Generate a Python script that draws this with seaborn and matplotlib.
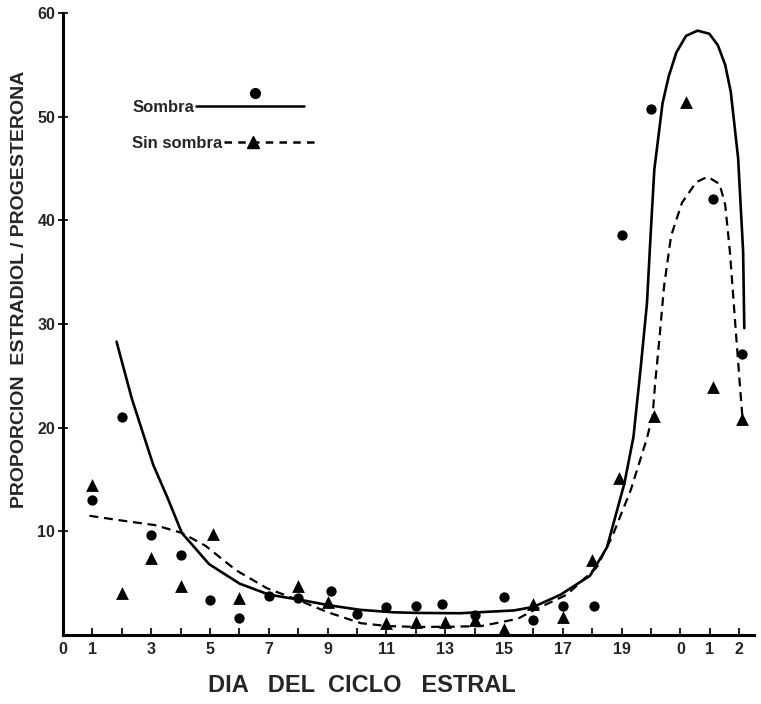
import numpy as np
import pandas as pd
import matplotlib
matplotlib.use("Agg")
import matplotlib.pyplot as plt
import seaborn as sns
from matplotlib.lines import Line2D
from matplotlib.legend_handler import HandlerBase

# ---- data ----
sombra_dia = [1, 2, 3, 4, 5, 6, 7, 8, 9.1, 10, 11, 12, 12.9, 14, 15, 16, 17, 18.05, 19.0, 20.0, 22.1, 23.1]
sombra_val = [13.0, 21.0, 9.6, 7.7, 3.4, 1.6, 3.8, 3.6, 4.2, 2.0, 2.7, 2.8, 3.0, 1.9, 3.7, 1.4, 2.8, 2.8, 38.6, 50.7, 42.1, 27.1]

sin_dia = [1, 2, 3, 4, 5.1, 6, 8, 9, 11, 12, 13, 14, 15, 16, 17, 18, 18.9, 20.1, 21.2, 22.1, 23.1]
sin_val = [14.5, 4.1, 7.4, 4.7, 9.7, 3.6, 4.7, 3.2, 1.2, 1.3, 1.3, 1.4, 0.6, 3.0, 1.7, 7.2, 15.1, 21.1, 51.4, 23.9, 20.8]

curva_sombra_dia = [1.82, 2.34, 3.07, 3.56, 4.04, 4.97, 6.01, 7.01, 8.07, 9.07, 10.1, 11.24, 12.03, 13.5,
                    15.34, 16.01, 16.92, 17.92, 18.5, 19.09, 19.40, 19.64, 19.86, 19.98, 20.11, 20.39,
                    20.6, 20.86, 21.19, 21.58, 21.98, 22.27, 22.52, 22.71, 22.96, 23.13, 23.17]
curva_sombra_val = [28.3, 22.8, 16.4, 13.2, 9.85, 6.83, 4.95, 3.89, 3.39, 2.86, 2.43, 2.19, 2.13, 2.1,
                    2.37, 2.72, 3.89, 5.71, 8.46, 14.6, 19.1, 25.6, 32.0, 38.4, 44.9, 51.3,
                    53.9, 56.2, 57.8, 58.3, 58.0, 56.9, 55.0, 52.4, 46.0, 37.0, 29.6]

curva_sin_dia = [0.9, 2.1, 3.13, 4.04, 4.85, 5.89, 6.93, 8.07, 8.99, 10.13, 11.04, 12.04, 13.2, 14.22,
                 15.46, 16.02, 17.14, 18.14, 18.67, 19.31, 19.84, 20.05, 20.13, 20.29, 20.44, 20.68,
                 21.05, 21.54, 21.93, 22.33, 22.52, 22.68, 22.85, 23.02, 23.11]
curva_sin_val = [11.5, 11.0, 10.6, 9.85, 8.6, 6.24, 4.52, 3.29, 2.21, 1.14, 0.86, 0.78, 0.8, 0.86,
                 1.56, 2.4, 3.9, 6.5, 9.44, 14.0, 18.8, 21.1, 24.0, 28.8, 33.6, 38.5,
                 41.7, 43.7, 44.2, 43.5, 41.5, 37.0, 30.5, 24.1, 20.9]

xtick_pos = [0, 1, 3, 5, 7, 9, 11, 13, 15, 17, 19, 21, 22, 23]
xtick_lab = ["0", "1", "3", "5", "7", "9", "11", "13", "15", "17", "19", "0", "1", "2"]
ytick_pos = [10, 20, 30, 40, 50, 60]

# ---- figure ----
sns.set_style("ticks")
plt.rcParams["font.family"] = ["Liberation Sans", "DejaVu Sans"]

fig = plt.figure(figsize=(7.61, 7.04), dpi=100)
ax = fig.add_axes([0.0828, 0.098, 0.908, 0.8835])

pts_s = pd.DataFrame({"dia": sombra_dia, "val": sombra_val})
pts_n = pd.DataFrame({"dia": sin_dia, "val": sin_val})
cs = pd.DataFrame({"dia": curva_sombra_dia, "val": curva_sombra_val})
cn = pd.DataFrame({"dia": curva_sin_dia, "val": curva_sin_val})

sns.lineplot(data=cs, x="dia", y="val", sort=False, estimator=None, color="black",
             linewidth=1.9, ax=ax)
sns.lineplot(data=cn, x="dia", y="val", sort=False, estimator=None, color="black",
             linewidth=1.6, dashes=False, ax=ax)
ax.lines[-1].set_dashes((4, 2.6))

sns.scatterplot(data=pts_s, x="dia", y="val", marker="o", s=55, color="black",
                edgecolor="black", linewidth=0, ax=ax, clip_on=False, zorder=5)
sns.scatterplot(data=pts_n, x="dia", y="val", marker="^", s=85, color="black",
                edgecolor="black", linewidth=0, ax=ax, clip_on=False, zorder=5)

ax.set_xlim(0, 23.5)
ax.set_ylim(0, 60)

ax.set_xticks(xtick_pos)
ax.set_xticklabels(xtick_lab)
ax.set_xticks(range(0, 24), minor=True)
ax.set_yticks(ytick_pos)
ax.set_yticklabels([str(v) for v in ytick_pos])

ax.tick_params(axis="x", which="both", direction="in", length=5, width=1.5, pad=5,
               labelsize=11.5)
ax.tick_params(axis="y", direction="inout", length=7, width=1.5, pad=2, labelsize=11.5)
for lab in ax.get_xticklabels() + ax.get_yticklabels():
    lab.set_fontweight("bold")

sns.despine(ax=ax)
for side in ("left", "bottom"):
    ax.spines[side].set_linewidth(2.2)
    ax.spines[side].set_color("black")

ax.set_xlabel("DIA   DEL  CICLO   ESTRAL", fontsize=17, fontweight="bold", labelpad=0)
ax.set_ylabel("PROPORCION  ESTRADIOL / PROGESTERONA", fontsize=14, fontweight="bold",
              labelpad=0)
ax.xaxis.set_label_coords(0.433, -0.062)
ax.yaxis.set_label_coords(-0.05, 0.555)


class LegendHandle(HandlerBase):
    def __init__(self, ls, marker, mx, my, ms):
        super().__init__()
        self.ls, self.marker, self.mx, self.my, self.ms = ls, marker, mx, my, ms

    def create_artists(self, legend, orig_handle, xdescent, ydescent, width, height,
                       fontsize, trans):
        y = height / 2 - ydescent
        line = Line2D([-xdescent, width - xdescent], [y, y], color="black", lw=1.8,
                      transform=trans)
        if self.ls == "--":
            line.set_dashes((3, 2.5))
        mk = Line2D([-xdescent + self.mx * width], [y + self.my * height], marker=self.marker,
                    markersize=self.ms, color="black", linestyle="none", transform=trans)
        return [line, mk]


h1 = Line2D([], [])
h2 = Line2D([], [])
leg1 = ax.legend([h1], ["Sombra"], handler_map={h1: LegendHandle("-", "o", 0.55, 1.1, 7)},
                 loc="upper left", bbox_to_anchor=(0.1, 0.86), frameon=False,
                 markerfirst=False, handlelength=6.5, handletextpad=0.1,
                 prop={"size": 12, "weight": "bold"}, borderaxespad=0, borderpad=0)
ax.add_artist(leg1)
leg2 = ax.legend([h2], ["Sin sombra"], handler_map={h2: LegendHandle("--", "^", 0.32, 0.0, 8)},
                 loc="upper left", bbox_to_anchor=(0.1, 0.803), frameon=False,
                 markerfirst=False, handlelength=5.5, handletextpad=0.1,
                 prop={"size": 12, "weight": "bold"}, borderaxespad=0, borderpad=0)

fig.savefig("out.png", dpi=100)
